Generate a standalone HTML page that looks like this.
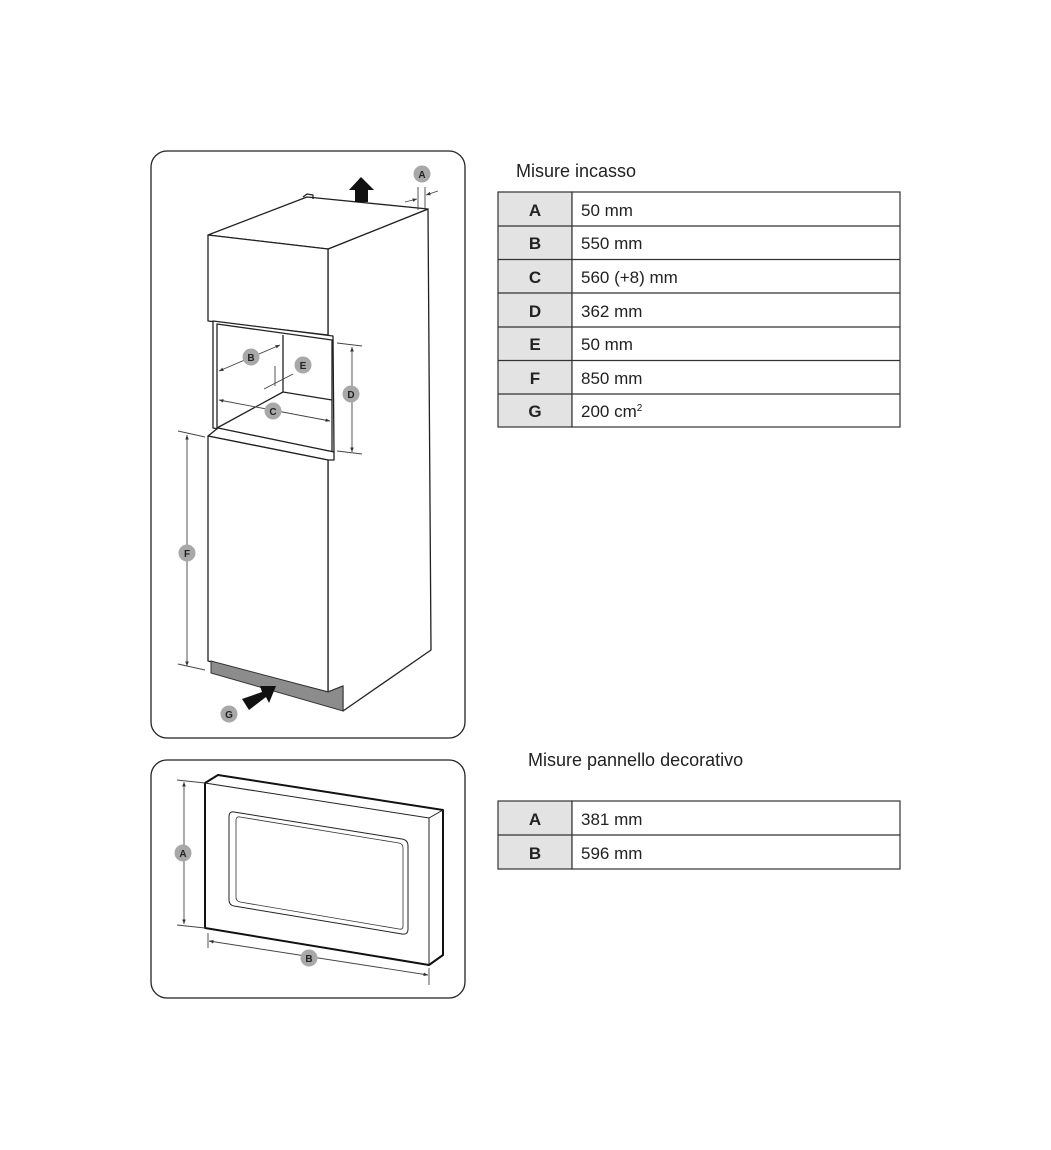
<!DOCTYPE html>
<html><head><meta charset="utf-8"><style>
html,body{margin:0;padding:0;background:#fff;}
svg{display:block;}
text{font-family:"Liberation Sans",sans-serif;}
</style></head><body>
<svg width="1051" height="1150" viewBox="0 0 1051 1150" xmlns="http://www.w3.org/2000/svg">
<defs>
<marker id="ah" viewBox="0 0 10 10" refX="10" refY="5" markerWidth="5" markerHeight="5" orient="auto-start-reverse"><path d="M0,1 L10,5 L0,9 z" fill="#333"/></marker>
</defs>
<rect x="151" y="151" width="314" height="587" rx="16" fill="none" stroke="#222" stroke-width="1.3"/>
<g fill="#fff" stroke="#222" stroke-width="1.3" stroke-linejoin="round">
<path d="M328,249 L428,209 L431,650 L343,711 L343,686 L328,692 Z"/>
<path d="M208,235 L307,197 L428,209 L328,249 Z"/>
<path d="M303,197 L307,194 L313,195 L313,199" fill="none"/>
<path d="M208,235 L328,249 L328,335 L208,321 Z"/>
<path d="M213,321 L333,336 L334,452 L213,428 Z"/>
<path d="M217,324 L332,340 L332,452 L217,428 Z" fill="none"/>
<path d="M283,335 L283,392 L332,400" fill="none"/>
<path d="M283,392 L217,428" fill="none"/>
<path d="M208,436 L218,428 L334,452 L334,460 L328,460 Z"/>
<path d="M208,440 L328,464" fill="none"/>
<path d="M208,436 L328,460 L328,692 L208,661 Z"/>
</g>
<path d="M211,661 L328,692 L343,686 L343,711 L211,673 Z" fill="#8c8c8c" stroke="#333" stroke-width="1"/>
<path d="M355,202 L355,190 L349,190 L361,177 L374,190 L368,190 L368,202 Z" fill="#111"/>
<path d="M249,710 L242,699 L262,692 L260,686 L276,686 L269,703 L266,697 Z" fill="#111"/>
<g stroke="#444" stroke-width="0.9" fill="none">
<line x1="418" y1="187" x2="418" y2="210"/><line x1="425" y1="187" x2="425" y2="210"/>
<line x1="405" y1="202" x2="417" y2="199" marker-end="url(#ah)"/><line x1="438" y1="191" x2="426" y2="195" marker-end="url(#ah)"/>
<line x1="219" y1="371" x2="280" y2="345" marker-start="url(#ah)" marker-end="url(#ah)"/>
<line x1="275" y1="366" x2="275" y2="386"/>
<line x1="264" y1="389" x2="293" y2="374"/>
<line x1="219" y1="400" x2="330" y2="421" marker-start="url(#ah)" marker-end="url(#ah)"/>
<line x1="337" y1="343" x2="362" y2="346"/><line x1="337" y1="451" x2="362" y2="454"/>
<line x1="352" y1="347" x2="352" y2="452" marker-start="url(#ah)" marker-end="url(#ah)"/>
<line x1="178" y1="431" x2="205" y2="437"/><line x1="178" y1="664" x2="205" y2="670"/>
<line x1="187" y1="435" x2="187" y2="666" marker-start="url(#ah)" marker-end="url(#ah)"/>
</g>
<g font-size="10" font-weight="bold" text-anchor="middle" fill="#222">
<circle cx="422" cy="174" r="8.5" fill="#a8a8a8"/><text x="422" y="178">A</text>
<circle cx="251" cy="357" r="8.5" fill="#a8a8a8"/><text x="251" y="361">B</text>
<circle cx="303" cy="365" r="8.5" fill="#a8a8a8"/><text x="303" y="369">E</text>
<circle cx="273" cy="411" r="8.5" fill="#a8a8a8"/><text x="273" y="415">C</text>
<circle cx="351" cy="394" r="8.5" fill="#a8a8a8"/><text x="351" y="398">D</text>
<circle cx="187" cy="553" r="8.5" fill="#a8a8a8"/><text x="187" y="557">F</text>
<circle cx="229" cy="714" r="8.5" fill="#a8a8a8"/><text x="229" y="718">G</text>
</g>
<rect x="151" y="760" width="314" height="238" rx="16" fill="none" stroke="#222" stroke-width="1.3"/>
<path d="M205,783 L218,775 L443,810 L443,955 L429,965 L205,928 Z" fill="#fff" stroke="#111" stroke-width="2" stroke-linejoin="round"/>
<path d="M205,783 L429,818 L443,810 M429,818 L429,965" fill="none" stroke="#222" stroke-width="1"/>
<path d="M234,812 L402,839 Q408,840 408,846 L408,929 Q408,935 402,934 L234,906 Q229,905 229,900 L229,817 Q229,811 234,812 Z" fill="none" stroke="#222" stroke-width="1"/>
<path d="M240,817 L399,843 Q403,844 403,848 L403,926 Q403,930 399,929 L240,902 Q236,901 236,897 L236,821 Q236,816 240,817 Z" fill="none" stroke="#333" stroke-width="0.8"/>
<g stroke="#444" stroke-width="0.9" fill="none">
<line x1="177" y1="780" x2="205" y2="783"/><line x1="177" y1="925" x2="205" y2="928"/>
<line x1="184" y1="782" x2="184" y2="924" marker-start="url(#ah)" marker-end="url(#ah)"/>
<line x1="208" y1="933" x2="208" y2="948"/><line x1="429" y1="968" x2="429" y2="985"/>
<line x1="209" y1="941" x2="428" y2="975" marker-start="url(#ah)" marker-end="url(#ah)"/>
</g>
<g font-size="10" font-weight="bold" text-anchor="middle" fill="#222">
<circle cx="183" cy="853" r="8.5" fill="#a8a8a8"/><text x="183" y="857">A</text>
<circle cx="309" cy="958" r="8.5" fill="#a8a8a8"/><text x="309" y="962">B</text>
</g>
<text x="516" y="177" font-size="18" fill="#222">Misure incasso</text>
<g stroke="#333" stroke-width="1.2">
<rect x="498" y="192" width="74" height="235" fill="#e3e3e3"/>
<rect x="572" y="192" width="328" height="235" fill="#fff"/>
<line x1="498" y1="226" x2="900" y2="226"/><line x1="498" y1="259.5" x2="900" y2="259.5"/>
<line x1="498" y1="293" x2="900" y2="293"/><line x1="498" y1="327" x2="900" y2="327"/>
<line x1="498" y1="360.5" x2="900" y2="360.5"/><line x1="498" y1="394" x2="900" y2="394"/>
</g>
<g font-size="17" fill="#222">
<g font-weight="bold" text-anchor="middle">
<text x="535" y="216">A</text><text x="535" y="249">B</text><text x="535" y="283">C</text><text x="535" y="317">D</text><text x="535" y="350">E</text><text x="535" y="384">F</text><text x="535" y="417">G</text>
</g>
<text x="581" y="216">50 mm</text><text x="581" y="249">550 mm</text><text x="581" y="283">560 (+8) mm</text><text x="581" y="317">362 mm</text><text x="581" y="350">50 mm</text><text x="581" y="384">850 mm</text><text x="581" y="417">200 cm<tspan font-size="10" dy="-6">2</tspan></text>
</g>
<text x="528" y="766" font-size="18" fill="#222">Misure pannello decorativo</text>
<g stroke="#333" stroke-width="1.2">
<rect x="498" y="801" width="74" height="68" fill="#e3e3e3"/>
<rect x="572" y="801" width="328" height="68" fill="#fff"/>
<line x1="498" y1="835" x2="900" y2="835"/>
</g>
<g font-size="17" fill="#222">
<g font-weight="bold" text-anchor="middle"><text x="535" y="825">A</text><text x="535" y="859">B</text></g>
<text x="581" y="825">381 mm</text><text x="581" y="859">596 mm</text>
</g>
</svg>
</body></html>
